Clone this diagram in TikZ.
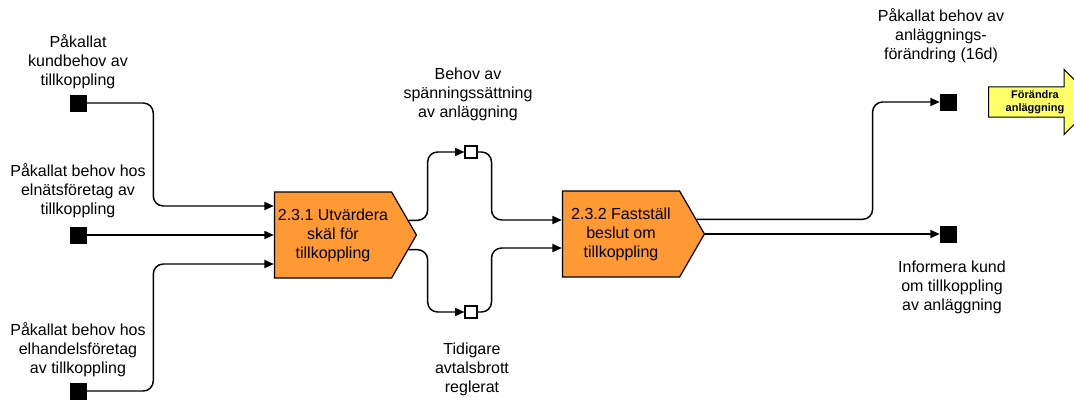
\documentclass[tikz,border=0pt]{standalone}
\usepackage{fontspec}
\setmainfont{Liberation Sans}
\usepackage{tikz}
\usetikzlibrary{shapes.symbols,shapes.arrows,arrows.meta,calc}
\definecolor{procfill}{RGB}{255,153,51}
\definecolor{gotofill}{RGB}{255,255,102}

\begin{document}
\begin{tikzpicture}[x=0.75pt, y=-0.75pt,
  lbl/.style={align=center, font=\fontsize{12}{14.25}\selectfont, inner sep=0pt},
  proc/.style={signal, signal to=east, signal pointer angle=120, draw, fill=procfill, line width=0.9pt, minimum width=106.5pt, minimum height=64.5pt, inner sep=0pt, align=center, font=\fontsize{12}{14.25}\selectfont},
  goto/.style={single arrow, single arrow head extend=10.5pt, single arrow tip angle=90, draw, fill=gotofill, line width=0.8pt, minimum height=81pt, minimum width=48.75pt, inner sep=0pt, align=center, font=\fontsize{8.25}{9.75}\selectfont\bfseries},
  ext/.style={draw, fill=black, minimum size=12pt, inner sep=0pt},
  mid/.style={draw, fill=white, minimum size=9pt, inner sep=0pt, line width=0.8pt},
  link/.style={line width=1.1pt, rounded corners=7.5pt},
  flow/.style={link, -{Triangle[length=7pt,width=6pt]}}]
\useasboundingbox (0,0) rectangle (1074,400);

\node [ext] (in1) at (78,103) {};
\node [ext] (in2) at (78,235) {};
\node [ext] (in3) at (78,391) {};
\node [lbl] (t1) at (78,62) {Påkallat\\kundbehov av\\tillkoppling};
\node [lbl] (t2) at (78,191) {Påkallat behov hos\\elnätsföretag av\\tillkoppling};
\node [lbl] (t3) at (78,350) {Påkallat behov hos\\elhandelsföretag\\av tillkoppling};

\node [proc] (p231) at (333,235) {2.3.1 Utvärdera\\skäl för\\tillkoppling};
\node [proc] (p232) at (621,234) {2.3.2 Fastställ\\beslut om\\tillkoppling};

\node [mid] (m1) at (471,152) {};
\node [mid] (m2) at (471,312) {};
\node [lbl] (t4) at (468,94) {Behov av\\spänningssättning\\av anläggning};
\node [lbl] (t5) at (472,369) {Tidigare\\avtalsbrott\\reglerat};

\node [ext] (out1) at (948,102) {};
\node [ext] (out2) at (948,234) {};
\node [lbl] (t6) at (941,36) {Påkallat behov av\\anläggnings-\\förändring (16d)};
\node [lbl] (t7) at (952,287) {Informera kund\\om tillkoppling\\av anläggning};

\node [goto] (g1) at (1035,102) {Förändra\\anläggning};

\draw [flow] (in1.east) -- ++(67,0) |- ($(p231.west)+(0,-29)$);
\draw [flow] (in2.east) -- (p231.west);
\draw [flow] (in3.east) -- ++(67,0) |- ($(p231.west)+(0,29)$);

\draw [flow] (p231.11) -- ++(19,0) |- (m1.west);
\draw [flow] (p231.-11) -- ++(19,0) |- (m2.west);
\draw [flow] (m1.east) -- ++(14,0) |- ($(p232.west)+(0,-14)$);
\draw [flow] (m2.east) -- ++(14,0) |- ($(p232.west)+(0,14)$);

\draw [flow] (p232.11) -- ++(176,0) |- (out1.west);
\draw [flow] (p232.east) -- (out2.west);
\end{tikzpicture}
\end{document}
